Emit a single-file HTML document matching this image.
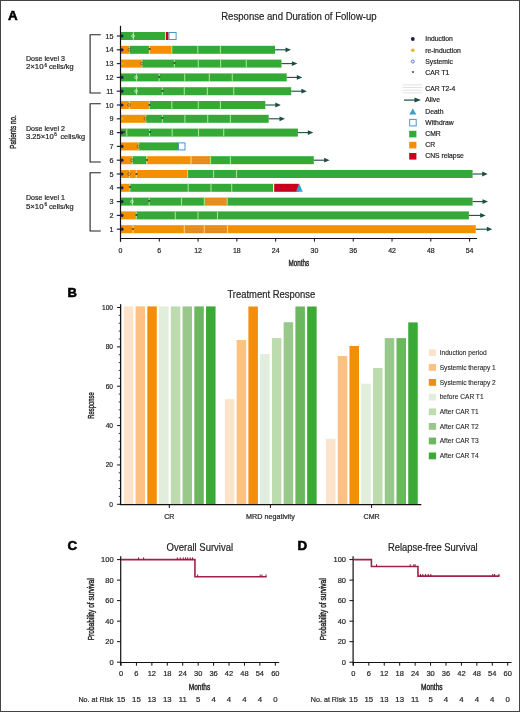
<!DOCTYPE html>
<html><head><meta charset="utf-8"><title>Figure</title>
<style>html,body{margin:0;padding:0;background:#fff;}svg{display:block;will-change:transform;}text{font-family:"Liberation Sans",sans-serif;stroke:#262626;stroke-width:0.2px;}</style>
</head><body>
<svg width="520" height="712" viewBox="0 0 520 712" font-family='"Liberation Sans", sans-serif'>
<rect x="0" y="0" width="520" height="712" fill="#fff"/>
<text x="7.9" y="19.9" font-size="13.4" text-anchor="start" font-weight="bold" fill="#000" style="stroke:#000;stroke-width:0.55px">A</text>
<text x="221.2" y="19.6" font-size="10" text-anchor="start" font-weight="normal" fill="#262626" textLength="155.5" lengthAdjust="spacingAndGlyphs" >Response and Duration of Follow-up</text>
<text transform="translate(15.6,132) rotate(-90)" x="0" y="0" font-size="9.4" text-anchor="middle" fill="#262626" textLength="33.5" lengthAdjust="spacingAndGlyphs" style="stroke-width:0.4px">Patients no.</text>
<path d="M100.8 34.8H90.1V93.0H100.8" fill="none" stroke="#222" stroke-width="1.1"/>
<text x="26" y="60.9" font-size="7" text-anchor="start" font-weight="normal" fill="#262626" textLength="39" lengthAdjust="spacingAndGlyphs" >Dose level 3</text>
<text x="25.9" y="69.3" font-size="7" text-anchor="start" font-weight="normal" fill="#262626" textLength="17.7" lengthAdjust="spacingAndGlyphs" >2×10</text>
<text x="44.6" y="66.5" font-size="4.6" text-anchor="start" font-weight="normal" fill="#262626" >6</text>
<text x="48.9" y="69.3" font-size="7" text-anchor="start" font-weight="normal" fill="#262626" textLength="24.6" lengthAdjust="spacingAndGlyphs" >cells/kg</text>
<path d="M100.8 103.8H90.1V162.0H100.8" fill="none" stroke="#222" stroke-width="1.1"/>
<text x="26" y="130.8" font-size="7" text-anchor="start" font-weight="normal" fill="#262626" textLength="39" lengthAdjust="spacingAndGlyphs" >Dose level 2</text>
<text x="25.9" y="139.2" font-size="7" text-anchor="start" font-weight="normal" fill="#262626" textLength="27.8" lengthAdjust="spacingAndGlyphs" >3.25×10</text>
<text x="54.3" y="136.4" font-size="4.6" text-anchor="start" font-weight="normal" fill="#262626" >6</text>
<text x="60.4" y="139.2" font-size="7" text-anchor="start" font-weight="normal" fill="#262626" textLength="24.6" lengthAdjust="spacingAndGlyphs" >cells/kg</text>
<path d="M100.8 172.8H90.1V231.00000000000003H100.8" fill="none" stroke="#222" stroke-width="1.1"/>
<text x="26" y="200.1" font-size="7" text-anchor="start" font-weight="normal" fill="#262626" textLength="39" lengthAdjust="spacingAndGlyphs" >Dose level 1</text>
<text x="25.9" y="208.5" font-size="7" text-anchor="start" font-weight="normal" fill="#262626" textLength="17.7" lengthAdjust="spacingAndGlyphs" >5×10</text>
<text x="44.6" y="205.7" font-size="4.6" text-anchor="start" font-weight="normal" fill="#262626" >6</text>
<text x="48.9" y="208.5" font-size="7" text-anchor="start" font-weight="normal" fill="#262626" textLength="24.6" lengthAdjust="spacingAndGlyphs" >cells/kg</text>
<text x="113.6" y="231.70000000000002" font-size="7.2" text-anchor="end" font-weight="normal" fill="#262626" >1</text>
<rect x="121" y="225.20000000000002" width="63.30" height="8" fill="#f29000"/>
<rect x="184.3" y="225.20000000000002" width="43.20" height="8" fill="#e58a18"/>
<line x1="184.3" x2="227.5" y1="227.70000000000002" y2="227.70000000000002" stroke="#f7b453" stroke-width="0.7" stroke-dasharray="1 1" opacity="0.7"/>
<line x1="184.3" x2="227.5" y1="230.70000000000002" y2="230.70000000000002" stroke="#f7b453" stroke-width="0.7" stroke-dasharray="1 1" opacity="0.7"/>
<rect x="227.5" y="225.20000000000002" width="248.20" height="8" fill="#f29000"/>
<rect x="132.45" y="225.20000000000002" width="1.1" height="8" fill="#fdd08a"/>
<rect x="183.75" y="225.20000000000002" width="1.1" height="8" fill="#fdd08a"/>
<rect x="203.75" y="225.20000000000002" width="1.1" height="8" fill="#fdd08a"/>
<rect x="226.95" y="225.20000000000002" width="1.1" height="8" fill="#fdd08a"/>
<line x1="475.7" x2="488.3" y1="229.20000000000002" y2="229.20000000000002" stroke="#1b4d45" stroke-width="1.1"/>
<path d="M486.8 226.8L492.3 229.20000000000002L486.8 231.60000000000002Z" fill="#1b4d45"/>
<line x1="116.8" x2="120.5" y1="229.20000000000002" y2="229.20000000000002" stroke="#1c2a4f" stroke-width="1.2"/>
<circle cx="122" cy="229.20000000000002" r="1.6" fill="#1c2a4f"/>
<text x="133" y="231.8" font-size="6" text-anchor="middle" fill="#444">*</text>
<text x="113.6" y="217.9" font-size="7.2" text-anchor="end" font-weight="normal" fill="#262626" >2</text>
<rect x="121" y="211.4" width="15.30" height="8" fill="#f29000"/>
<rect x="136.3" y="211.4" width="332.60" height="8" fill="#35a935"/>
<rect x="135.75" y="211.4" width="1.1" height="8" fill="#a3e096"/>
<rect x="174.75" y="211.4" width="1.1" height="8" fill="#a3e096"/>
<rect x="197.45" y="211.4" width="1.1" height="8" fill="#a3e096"/>
<rect x="216.95" y="211.4" width="1.1" height="8" fill="#a3e096"/>
<line x1="468.9" x2="481.7" y1="215.4" y2="215.4" stroke="#1b4d45" stroke-width="1.1"/>
<path d="M480.2 213.0L485.7 215.4L480.2 217.8Z" fill="#1b4d45"/>
<line x1="116.8" x2="120.5" y1="215.4" y2="215.4" stroke="#1c2a4f" stroke-width="1.2"/>
<circle cx="122" cy="215.4" r="1.6" fill="#1c2a4f"/>
<text x="136.3" y="218.0" font-size="6" text-anchor="middle" fill="#444">*</text>
<text x="113.6" y="204.10000000000002" font-size="7.2" text-anchor="end" font-weight="normal" fill="#262626" >3</text>
<rect x="121" y="197.60000000000002" width="83.50" height="8" fill="#35a935"/>
<rect x="204.5" y="197.60000000000002" width="22.70" height="8" fill="#e58a18"/>
<line x1="204.5" x2="227.2" y1="200.10000000000002" y2="200.10000000000002" stroke="#f7b453" stroke-width="0.7" stroke-dasharray="1 1" opacity="0.7"/>
<line x1="204.5" x2="227.2" y1="203.10000000000002" y2="203.10000000000002" stroke="#f7b453" stroke-width="0.7" stroke-dasharray="1 1" opacity="0.7"/>
<rect x="227.2" y="197.60000000000002" width="245.40" height="8" fill="#35a935"/>
<rect x="131.85" y="197.60000000000002" width="1.1" height="8" fill="#a3e096"/>
<rect x="148.64999999999998" y="197.60000000000002" width="1.1" height="8" fill="#a3e096"/>
<rect x="180.95" y="197.60000000000002" width="1.1" height="8" fill="#a3e096"/>
<rect x="203.75" y="197.60000000000002" width="1.1" height="8" fill="#a3e096"/>
<rect x="226.64999999999998" y="197.60000000000002" width="1.1" height="8" fill="#a3e096"/>
<line x1="472.6" x2="484" y1="201.60000000000002" y2="201.60000000000002" stroke="#1b4d45" stroke-width="1.1"/>
<path d="M482.5 199.20000000000002L488 201.60000000000002L482.5 204.00000000000003Z" fill="#1b4d45"/>
<line x1="116.8" x2="120.5" y1="201.60000000000002" y2="201.60000000000002" stroke="#1c2a4f" stroke-width="1.2"/>
<circle cx="122" cy="201.60000000000002" r="1.6" fill="#1c2a4f"/>
<circle cx="132.0" cy="201.60000000000002" r="1.4" fill="none" stroke="#e2f2dc" stroke-width="0.8" opacity="0.9"/>
<text x="149.2" y="204.20000000000002" font-size="6" text-anchor="middle" fill="#444">*</text>
<text x="113.6" y="190.3" font-size="7.2" text-anchor="end" font-weight="normal" fill="#262626" >4</text>
<rect x="121" y="183.8" width="8.90" height="8" fill="#f29000"/>
<rect x="129.9" y="183.8" width="143.20" height="8" fill="#35a935"/>
<rect x="274.2" y="183.8" width="24.60" height="8" fill="#c8001e"/>
<rect x="129.35" y="183.8" width="1.1" height="8" fill="#a3e096"/>
<rect x="187.64999999999998" y="183.8" width="1.1" height="8" fill="#a3e096"/>
<rect x="210.45" y="183.8" width="1.1" height="8" fill="#a3e096"/>
<rect x="231.14999999999998" y="183.8" width="1.1" height="8" fill="#a3e096"/>
<path d="M299.3 183.8L302.7 191.8L295.90000000000003 191.8Z" fill="#3aa0d0"/>
<line x1="116.8" x2="120.5" y1="187.8" y2="187.8" stroke="#1c2a4f" stroke-width="1.2"/>
<circle cx="122" cy="187.8" r="1.6" fill="#1c2a4f"/>
<text x="129.9" y="190.4" font-size="6" text-anchor="middle" fill="#444">*</text>
<text x="113.6" y="176.5" font-size="7.2" text-anchor="end" font-weight="normal" fill="#262626" >5</text>
<rect x="121" y="170.0" width="66.60" height="8" fill="#f29000"/>
<rect x="187.6" y="170.0" width="285.00" height="8" fill="#35a935"/>
<rect x="128.95" y="170.0" width="1.1" height="8" fill="#fdd08a"/>
<rect x="135.75" y="170.0" width="1.1" height="8" fill="#fdd08a"/>
<rect x="187.04999999999998" y="170.0" width="1.1" height="8" fill="#a3e096"/>
<rect x="213.04999999999998" y="170.0" width="1.1" height="8" fill="#a3e096"/>
<rect x="235.95" y="170.0" width="1.1" height="8" fill="#a3e096"/>
<line x1="472.6" x2="483.7" y1="174.0" y2="174.0" stroke="#1b4d45" stroke-width="1.1"/>
<path d="M482.2 171.6L487.7 174.0L482.2 176.4Z" fill="#1b4d45"/>
<line x1="116.8" x2="120.5" y1="174.0" y2="174.0" stroke="#1c2a4f" stroke-width="1.2"/>
<circle cx="122" cy="174.0" r="1.6" fill="#1c2a4f"/>
<circle cx="129.1" cy="174.0" r="1.4" fill="none" stroke="#7a5530" stroke-width="0.8" opacity="0.9"/>
<text x="136.3" y="176.6" font-size="6" text-anchor="middle" fill="#444">*</text>
<text x="113.6" y="162.7" font-size="7.2" text-anchor="end" font-weight="normal" fill="#262626" >6</text>
<rect x="121" y="156.2" width="11.40" height="8" fill="#f29000"/>
<rect x="132.4" y="156.2" width="14.40" height="8" fill="#35a935"/>
<rect x="146.8" y="156.2" width="44.20" height="8" fill="#f29000"/>
<rect x="191" y="156.2" width="19.50" height="8" fill="#e58a18"/>
<line x1="191" x2="210.5" y1="158.7" y2="158.7" stroke="#f7b453" stroke-width="0.7" stroke-dasharray="1 1" opacity="0.7"/>
<line x1="191" x2="210.5" y1="161.7" y2="161.7" stroke="#f7b453" stroke-width="0.7" stroke-dasharray="1 1" opacity="0.7"/>
<rect x="210.5" y="156.2" width="103.30" height="8" fill="#35a935"/>
<rect x="131.85" y="156.2" width="1.1" height="8" fill="#a3e096"/>
<rect x="146.25" y="156.2" width="1.1" height="8" fill="#fdd08a"/>
<rect x="190.45" y="156.2" width="1.1" height="8" fill="#fdd08a"/>
<rect x="209.95" y="156.2" width="1.1" height="8" fill="#a3e096"/>
<rect x="229.85" y="156.2" width="1.1" height="8" fill="#a3e096"/>
<line x1="313.8" x2="325.6" y1="160.2" y2="160.2" stroke="#1b4d45" stroke-width="1.1"/>
<path d="M324.1 157.79999999999998L329.6 160.2L324.1 162.6Z" fill="#1b4d45"/>
<line x1="116.8" x2="120.5" y1="160.2" y2="160.2" stroke="#1c2a4f" stroke-width="1.2"/>
<circle cx="122" cy="160.2" r="1.6" fill="#1c2a4f"/>
<circle cx="132.0" cy="160.2" r="1.4" fill="none" stroke="#7a5530" stroke-width="0.8" opacity="0.9"/>
<text x="146.8" y="162.79999999999998" font-size="6" text-anchor="middle" fill="#444">*</text>
<text x="113.6" y="148.9" font-size="7.2" text-anchor="end" font-weight="normal" fill="#262626" >7</text>
<rect x="121" y="142.4" width="17.80" height="8" fill="#f29000"/>
<rect x="138.8" y="142.4" width="39.20" height="8" fill="#35a935"/>
<rect x="138.25" y="142.4" width="1.1" height="8" fill="#a3e096"/>
<rect x="178.5" y="142.9" width="6.5" height="7" fill="#fff" stroke="#4a95c8" stroke-width="1"/>
<line x1="116.8" x2="120.5" y1="146.4" y2="146.4" stroke="#1c2a4f" stroke-width="1.2"/>
<circle cx="122" cy="146.4" r="1.6" fill="#1c2a4f"/>
<circle cx="138.4" cy="146.4" r="1.4" fill="none" stroke="#7a5530" stroke-width="0.8" opacity="0.9"/>
<text x="113.6" y="135.10000000000002" font-size="7.2" text-anchor="end" font-weight="normal" fill="#262626" >8</text>
<rect x="121" y="128.60000000000002" width="176.90" height="8" fill="#35a935"/>
<rect x="126.25" y="128.60000000000002" width="1.1" height="8" fill="#a3e096"/>
<rect x="148.95" y="128.60000000000002" width="1.1" height="8" fill="#a3e096"/>
<rect x="171.64999999999998" y="128.60000000000002" width="1.1" height="8" fill="#a3e096"/>
<rect x="197.95" y="128.60000000000002" width="1.1" height="8" fill="#a3e096"/>
<rect x="223.14999999999998" y="128.60000000000002" width="1.1" height="8" fill="#a3e096"/>
<line x1="297.9" x2="309.3" y1="132.60000000000002" y2="132.60000000000002" stroke="#1b4d45" stroke-width="1.1"/>
<path d="M307.8 130.20000000000002L313.3 132.60000000000002L307.8 135.00000000000003Z" fill="#1b4d45"/>
<line x1="116.8" x2="120.5" y1="132.60000000000002" y2="132.60000000000002" stroke="#1c2a4f" stroke-width="1.2"/>
<circle cx="122" cy="132.60000000000002" r="1.6" fill="#1c2a4f"/>
<text x="123.8" y="135.20000000000002" font-size="6" text-anchor="middle" fill="#444">*</text>
<text x="149.8" y="135.20000000000002" font-size="6" text-anchor="middle" fill="#444">*</text>
<text x="113.6" y="121.30000000000001" font-size="7.2" text-anchor="end" font-weight="normal" fill="#262626" >9</text>
<rect x="121" y="114.80000000000001" width="24.90" height="8" fill="#f29000"/>
<rect x="145.9" y="114.80000000000001" width="122.80" height="8" fill="#35a935"/>
<rect x="145.35" y="114.80000000000001" width="1.1" height="8" fill="#a3e096"/>
<rect x="161.85" y="114.80000000000001" width="1.1" height="8" fill="#a3e096"/>
<rect x="184.35" y="114.80000000000001" width="1.1" height="8" fill="#a3e096"/>
<rect x="207.14999999999998" y="114.80000000000001" width="1.1" height="8" fill="#a3e096"/>
<rect x="229.85" y="114.80000000000001" width="1.1" height="8" fill="#a3e096"/>
<line x1="268.7" x2="281" y1="118.80000000000001" y2="118.80000000000001" stroke="#1b4d45" stroke-width="1.1"/>
<path d="M279.5 116.4L285 118.80000000000001L279.5 121.20000000000002Z" fill="#1b4d45"/>
<line x1="116.8" x2="120.5" y1="118.80000000000001" y2="118.80000000000001" stroke="#1c2a4f" stroke-width="1.2"/>
<circle cx="121.8" cy="118.80000000000001" r="1.5" fill="#e2b822"/>
<circle cx="145.5" cy="118.80000000000001" r="1.4" fill="none" stroke="#7a5530" stroke-width="0.8" opacity="0.9"/>
<text x="162.4" y="121.4" font-size="6" text-anchor="middle" fill="#444">*</text>
<text x="113.6" y="107.5" font-size="7.2" text-anchor="end" font-weight="normal" fill="#262626" >10</text>
<rect x="121" y="101.0" width="28.30" height="8" fill="#f29000"/>
<rect x="149.3" y="101.0" width="116.00" height="8" fill="#35a935"/>
<rect x="128.75" y="101.0" width="1.1" height="8" fill="#fdd08a"/>
<rect x="148.75" y="101.0" width="1.1" height="8" fill="#a3e096"/>
<rect x="171.25" y="101.0" width="1.1" height="8" fill="#a3e096"/>
<rect x="197.75" y="101.0" width="1.1" height="8" fill="#a3e096"/>
<rect x="219.85" y="101.0" width="1.1" height="8" fill="#a3e096"/>
<line x1="265.3" x2="276.8" y1="105.0" y2="105.0" stroke="#1b4d45" stroke-width="1.1"/>
<path d="M275.3 102.6L280.8 105.0L275.3 107.4Z" fill="#1b4d45"/>
<line x1="116.8" x2="120.5" y1="105.0" y2="105.0" stroke="#1c2a4f" stroke-width="1.2"/>
<circle cx="122" cy="105.0" r="1.6" fill="#1c2a4f"/>
<circle cx="128.9" cy="105.0" r="1.4" fill="none" stroke="#7a5530" stroke-width="0.8" opacity="0.9"/>
<text x="149.3" y="107.6" font-size="6" text-anchor="middle" fill="#444">*</text>
<text x="113.6" y="93.7" font-size="7.2" text-anchor="end" font-weight="normal" fill="#262626" >11</text>
<rect x="121" y="87.2" width="170.20" height="8" fill="#35a935"/>
<rect x="135.95" y="87.2" width="1.1" height="8" fill="#a3e096"/>
<rect x="161.85" y="87.2" width="1.1" height="8" fill="#a3e096"/>
<rect x="183.75" y="87.2" width="1.1" height="8" fill="#a3e096"/>
<rect x="206.85" y="87.2" width="1.1" height="8" fill="#a3e096"/>
<rect x="233.14999999999998" y="87.2" width="1.1" height="8" fill="#a3e096"/>
<line x1="291.2" x2="302.9" y1="91.2" y2="91.2" stroke="#1b4d45" stroke-width="1.1"/>
<path d="M301.4 88.8L306.9 91.2L301.4 93.60000000000001Z" fill="#1b4d45"/>
<line x1="116.8" x2="120.5" y1="91.2" y2="91.2" stroke="#1c2a4f" stroke-width="1.2"/>
<circle cx="122" cy="91.2" r="1.6" fill="#1c2a4f"/>
<circle cx="136.1" cy="91.2" r="1.4" fill="none" stroke="#e2f2dc" stroke-width="0.8" opacity="0.9"/>
<text x="162.4" y="93.8" font-size="6" text-anchor="middle" fill="#444">*</text>
<text x="113.6" y="79.9" font-size="7.2" text-anchor="end" font-weight="normal" fill="#262626" >12</text>
<rect x="121" y="73.4" width="165.70" height="8" fill="#35a935"/>
<rect x="135.95" y="73.4" width="1.1" height="8" fill="#a3e096"/>
<rect x="158.64999999999998" y="73.4" width="1.1" height="8" fill="#a3e096"/>
<rect x="184.14999999999998" y="73.4" width="1.1" height="8" fill="#a3e096"/>
<rect x="208.75" y="73.4" width="1.1" height="8" fill="#a3e096"/>
<rect x="231.75" y="73.4" width="1.1" height="8" fill="#a3e096"/>
<line x1="286.7" x2="298.3" y1="77.4" y2="77.4" stroke="#1b4d45" stroke-width="1.1"/>
<path d="M296.8 75.0L302.3 77.4L296.8 79.80000000000001Z" fill="#1b4d45"/>
<line x1="116.8" x2="120.5" y1="77.4" y2="77.4" stroke="#1c2a4f" stroke-width="1.2"/>
<circle cx="122" cy="77.4" r="1.6" fill="#1c2a4f"/>
<circle cx="136.1" cy="77.4" r="1.4" fill="none" stroke="#e2f2dc" stroke-width="0.8" opacity="0.9"/>
<text x="159.2" y="80.0" font-size="6" text-anchor="middle" fill="#444">*</text>
<text x="113.6" y="66.1" font-size="7.2" text-anchor="end" font-weight="normal" fill="#262626" >13</text>
<rect x="121" y="59.6" width="21.00" height="8" fill="#f29000"/>
<rect x="142" y="59.6" width="139.50" height="8" fill="#35a935"/>
<rect x="141.45" y="59.6" width="1.1" height="8" fill="#a3e096"/>
<rect x="173.85" y="59.6" width="1.1" height="8" fill="#a3e096"/>
<rect x="197.75" y="59.6" width="1.1" height="8" fill="#a3e096"/>
<rect x="220.04999999999998" y="59.6" width="1.1" height="8" fill="#a3e096"/>
<rect x="245.75" y="59.6" width="1.1" height="8" fill="#a3e096"/>
<line x1="281.5" x2="293.4" y1="63.6" y2="63.6" stroke="#1b4d45" stroke-width="1.1"/>
<path d="M291.9 61.2L297.4 63.6L291.9 66.0Z" fill="#1b4d45"/>
<line x1="116.8" x2="120.5" y1="63.6" y2="63.6" stroke="#1c2a4f" stroke-width="1.2"/>
<circle cx="121.8" cy="63.6" r="1.5" fill="#e2b822"/>
<circle cx="141.79999999999998" cy="63.6" r="1.4" fill="none" stroke="#7a5530" stroke-width="0.8" opacity="0.9"/>
<text x="174.4" y="66.2" font-size="6" text-anchor="middle" fill="#444">*</text>
<text x="113.6" y="52.3" font-size="7.2" text-anchor="end" font-weight="normal" fill="#262626" >14</text>
<rect x="121" y="45.8" width="8.40" height="8" fill="#f29000"/>
<rect x="129.4" y="45.8" width="20.00" height="8" fill="#35a935"/>
<rect x="149.4" y="45.8" width="22.40" height="8" fill="#f29000"/>
<rect x="171.8" y="45.8" width="103.20" height="8" fill="#35a935"/>
<rect x="128.85" y="45.8" width="1.1" height="8" fill="#a3e096"/>
<rect x="148.85" y="45.8" width="1.1" height="8" fill="#fdd08a"/>
<rect x="171.25" y="45.8" width="1.1" height="8" fill="#a3e096"/>
<rect x="197.25" y="45.8" width="1.1" height="8" fill="#a3e096"/>
<rect x="219.85" y="45.8" width="1.1" height="8" fill="#a3e096"/>
<line x1="275" x2="287" y1="49.8" y2="49.8" stroke="#1b4d45" stroke-width="1.1"/>
<path d="M285.5 47.4L291 49.8L285.5 52.199999999999996Z" fill="#1b4d45"/>
<line x1="116.8" x2="120.5" y1="49.8" y2="49.8" stroke="#1c2a4f" stroke-width="1.2"/>
<circle cx="122" cy="49.8" r="1.6" fill="#1c2a4f"/>
<circle cx="129.2" cy="49.8" r="1.4" fill="none" stroke="#7a5530" stroke-width="0.8" opacity="0.9"/>
<text x="149.6" y="52.4" font-size="6" text-anchor="middle" fill="#444">*</text>
<text x="113.6" y="38.5" font-size="7.2" text-anchor="end" font-weight="normal" fill="#262626" >15</text>
<rect x="121" y="32.0" width="44.30" height="8" fill="#35a935"/>
<rect x="166.0" y="32.0" width="2.50" height="8" fill="#c8001e"/>
<rect x="132.85" y="32.0" width="1.1" height="8" fill="#a3e096"/>
<rect x="169.0" y="32.5" width="7.099999999999994" height="7" fill="#fff" stroke="#4a95c8" stroke-width="1"/>
<line x1="116.8" x2="120.5" y1="36.0" y2="36.0" stroke="#1c2a4f" stroke-width="1.2"/>
<circle cx="122" cy="36.0" r="1.6" fill="#1c2a4f"/>
<circle cx="133.0" cy="36.0" r="1.4" fill="none" stroke="#e2f2dc" stroke-width="0.8" opacity="0.9"/>
<line x1="120.5" x2="120.5" y1="25.8" y2="241.6" stroke="#111" stroke-width="1.2"/>
<line x1="120" x2="477" y1="238.5" y2="238.5" stroke="#111" stroke-width="1.2"/>
<line x1="120.50" x2="120.50" y1="238.5" y2="241.6" stroke="#111" stroke-width="1"/>
<text x="120.5" y="252.9" font-size="7" text-anchor="middle" font-weight="normal" fill="#262626" >0</text>
<line x1="159.29" x2="159.29" y1="238.5" y2="241.6" stroke="#111" stroke-width="1"/>
<text x="159.29" y="252.9" font-size="7" text-anchor="middle" font-weight="normal" fill="#262626" >6</text>
<line x1="198.08" x2="198.08" y1="238.5" y2="241.6" stroke="#111" stroke-width="1"/>
<text x="198.08" y="252.9" font-size="7" text-anchor="middle" font-weight="normal" fill="#262626" >12</text>
<line x1="236.87" x2="236.87" y1="238.5" y2="241.6" stroke="#111" stroke-width="1"/>
<text x="236.87" y="252.9" font-size="7" text-anchor="middle" font-weight="normal" fill="#262626" >18</text>
<line x1="275.66" x2="275.66" y1="238.5" y2="241.6" stroke="#111" stroke-width="1"/>
<text x="275.66" y="252.9" font-size="7" text-anchor="middle" font-weight="normal" fill="#262626" >24</text>
<line x1="314.45" x2="314.45" y1="238.5" y2="241.6" stroke="#111" stroke-width="1"/>
<text x="314.45" y="252.9" font-size="7" text-anchor="middle" font-weight="normal" fill="#262626" >30</text>
<line x1="353.24" x2="353.24" y1="238.5" y2="241.6" stroke="#111" stroke-width="1"/>
<text x="353.24" y="252.9" font-size="7" text-anchor="middle" font-weight="normal" fill="#262626" >36</text>
<line x1="392.03" x2="392.03" y1="238.5" y2="241.6" stroke="#111" stroke-width="1"/>
<text x="392.03" y="252.9" font-size="7" text-anchor="middle" font-weight="normal" fill="#262626" >42</text>
<line x1="430.82" x2="430.82" y1="238.5" y2="241.6" stroke="#111" stroke-width="1"/>
<text x="430.82" y="252.9" font-size="7" text-anchor="middle" font-weight="normal" fill="#262626" >48</text>
<line x1="469.61" x2="469.61" y1="238.5" y2="241.6" stroke="#111" stroke-width="1"/>
<text x="469.61" y="252.9" font-size="7" text-anchor="middle" font-weight="normal" fill="#262626" >54</text>
<text x="298.9" y="265.8" font-size="9.2" text-anchor="middle" fill="#262626" textLength="20.6" lengthAdjust="spacingAndGlyphs" style="stroke-width:0.45px">Months</text>
<text x="425.3" y="41.300000000000004" font-size="6.8" text-anchor="start" font-weight="normal" fill="#262626" >Induction</text>
<text x="425.3" y="52.6" font-size="6.8" text-anchor="start" font-weight="normal" fill="#262626" >re-induction</text>
<text x="425.3" y="63.7" font-size="6.8" text-anchor="start" font-weight="normal" fill="#262626" >Systemic</text>
<text x="425.3" y="74.89999999999999" font-size="6.8" text-anchor="start" font-weight="normal" fill="#262626" >CAR T1</text>
<text x="425.3" y="90.6" font-size="6.8" text-anchor="start" font-weight="normal" fill="#262626" >CAR T2-4</text>
<text x="425.3" y="102.19999999999999" font-size="6.8" text-anchor="start" font-weight="normal" fill="#262626" >Alive</text>
<text x="425.3" y="113.6" font-size="6.8" text-anchor="start" font-weight="normal" fill="#262626" >Death</text>
<text x="425.3" y="124.69999999999999" font-size="6.8" text-anchor="start" font-weight="normal" fill="#262626" >Withdraw</text>
<text x="425.3" y="136.1" font-size="6.8" text-anchor="start" font-weight="normal" fill="#262626" >CMR</text>
<text x="425.3" y="147.2" font-size="6.8" text-anchor="start" font-weight="normal" fill="#262626" >CR</text>
<text x="425.3" y="158.4" font-size="6.8" text-anchor="start" font-weight="normal" fill="#262626" >CNS relapse</text>
<circle cx="412.8" cy="39.0" r="1.9" fill="#1a2238"/>
<circle cx="412.8" cy="50.2" r="1.8" fill="#e2b822"/>
<circle cx="412.8" cy="61.5" r="1.5" fill="none" stroke="#4a5fc0" stroke-width="0.9"/>
<text x="412.8" y="75.4" font-size="6" text-anchor="middle" fill="#444">*</text>
<line x1="402.7" x2="422.2" y1="84.8" y2="84.8" stroke="#cfcfcf" stroke-width="0.6"/>
<line x1="402.7" x2="422.2" y1="87.5" y2="87.5" stroke="#cfcfcf" stroke-width="0.6"/>
<line x1="402.7" x2="422.2" y1="90.2" y2="90.2" stroke="#cfcfcf" stroke-width="0.6"/>
<line x1="402.7" x2="422.2" y1="92.9" y2="92.9" stroke="#cfcfcf" stroke-width="0.6"/>
<line x1="404" x2="416" y1="100.1" y2="100.1" stroke="#1b4d45" stroke-width="1.2"/>
<path d="M414.5 97.6L421 100.1L414.5 102.6Z" fill="#1b4d45"/>
<path d="M412.8 108.6L416.4 114.6L409.2 114.6Z" fill="#3aa0d0"/>
<rect x="409.7" y="119.4" width="6.5" height="6.5" fill="#fff" stroke="#4a95c8" stroke-width="1"/>
<rect x="409.2" y="130.8" width="7.2" height="6.6" fill="#35a935"/>
<rect x="409.2" y="141.8" width="7.2" height="6.6" fill="#f29000"/>
<rect x="409.2" y="153" width="7.2" height="6.6" fill="#c8001e"/>
<text x="67.6" y="297.4" font-size="13" text-anchor="start" font-weight="bold" fill="#000" style="stroke:#000;stroke-width:0.55px">B</text>
<text x="227.4" y="298.4" font-size="10" text-anchor="start" font-weight="normal" fill="#262626" textLength="87.8" lengthAdjust="spacingAndGlyphs" >Treatment Response</text>
<rect x="123.80" y="306.40" width="9.5" height="198.20" fill="#fde3c9"/>
<rect x="135.55" y="306.40" width="9.5" height="198.20" fill="#fdc184"/>
<rect x="147.30" y="306.40" width="9.5" height="198.20" fill="#f28e0a"/>
<rect x="159.05" y="306.40" width="9.5" height="198.20" fill="#e0eedb"/>
<rect x="170.80" y="306.40" width="9.5" height="198.20" fill="#bcdcaf"/>
<rect x="182.55" y="306.40" width="9.5" height="198.20" fill="#98c98a"/>
<rect x="194.30" y="306.40" width="9.5" height="198.20" fill="#6bb75e"/>
<rect x="206.05" y="306.40" width="9.5" height="198.20" fill="#3aa935"/>
<rect x="224.90" y="399.20" width="9.5" height="105.40" fill="#fde3c9"/>
<rect x="236.65" y="340.00" width="9.5" height="164.60" fill="#fdc184"/>
<rect x="248.40" y="306.50" width="9.5" height="198.10" fill="#f28e0a"/>
<rect x="260.15" y="354.10" width="9.5" height="150.50" fill="#e0eedb"/>
<rect x="271.90" y="338.10" width="9.5" height="166.50" fill="#bcdcaf"/>
<rect x="283.65" y="322.20" width="9.5" height="182.40" fill="#98c98a"/>
<rect x="295.40" y="306.50" width="9.5" height="198.10" fill="#6bb75e"/>
<rect x="307.15" y="306.50" width="9.5" height="198.10" fill="#3aa935"/>
<rect x="326.00" y="438.90" width="9.5" height="65.70" fill="#fde3c9"/>
<rect x="337.75" y="356.00" width="9.5" height="148.60" fill="#fdc184"/>
<rect x="349.50" y="346.00" width="9.5" height="158.60" fill="#f28e0a"/>
<rect x="361.25" y="383.70" width="9.5" height="120.90" fill="#e0eedb"/>
<rect x="373.00" y="368.00" width="9.5" height="136.60" fill="#bcdcaf"/>
<rect x="384.75" y="338.10" width="9.5" height="166.50" fill="#98c98a"/>
<rect x="396.50" y="338.10" width="9.5" height="166.50" fill="#6bb75e"/>
<rect x="408.25" y="322.40" width="9.5" height="182.20" fill="#3aa935"/>
<line x1="120.6" x2="120.6" y1="304.2" y2="505" stroke="#111" stroke-width="1.3"/>
<line x1="120" x2="421.3" y1="504.6" y2="504.6" stroke="#111" stroke-width="1.3"/>
<line x1="117.1" x2="120.6" y1="504.30" y2="504.30" stroke="#111" stroke-width="1"/>
<text x="113" y="506.6" font-size="6.6" text-anchor="end" font-weight="normal" fill="#262626" >0</text>
<line x1="118.7" x2="120.6" y1="496.43" y2="496.43" stroke="#111" stroke-width="0.8"/>
<line x1="118.7" x2="120.6" y1="488.56" y2="488.56" stroke="#111" stroke-width="0.8"/>
<line x1="118.7" x2="120.6" y1="480.68" y2="480.68" stroke="#111" stroke-width="0.8"/>
<line x1="118.7" x2="120.6" y1="472.81" y2="472.81" stroke="#111" stroke-width="0.8"/>
<line x1="117.1" x2="120.6" y1="464.94" y2="464.94" stroke="#111" stroke-width="1"/>
<text x="113" y="467.24" font-size="6.6" text-anchor="end" font-weight="normal" fill="#262626" >20</text>
<line x1="118.7" x2="120.6" y1="457.07" y2="457.07" stroke="#111" stroke-width="0.8"/>
<line x1="118.7" x2="120.6" y1="449.20" y2="449.20" stroke="#111" stroke-width="0.8"/>
<line x1="118.7" x2="120.6" y1="441.32" y2="441.32" stroke="#111" stroke-width="0.8"/>
<line x1="118.7" x2="120.6" y1="433.45" y2="433.45" stroke="#111" stroke-width="0.8"/>
<line x1="117.1" x2="120.6" y1="425.58" y2="425.58" stroke="#111" stroke-width="1"/>
<text x="113" y="427.88" font-size="6.6" text-anchor="end" font-weight="normal" fill="#262626" >40</text>
<line x1="118.7" x2="120.6" y1="417.71" y2="417.71" stroke="#111" stroke-width="0.8"/>
<line x1="118.7" x2="120.6" y1="409.84" y2="409.84" stroke="#111" stroke-width="0.8"/>
<line x1="118.7" x2="120.6" y1="401.96" y2="401.96" stroke="#111" stroke-width="0.8"/>
<line x1="118.7" x2="120.6" y1="394.09" y2="394.09" stroke="#111" stroke-width="0.8"/>
<line x1="117.1" x2="120.6" y1="386.22" y2="386.22" stroke="#111" stroke-width="1"/>
<text x="113" y="388.52" font-size="6.6" text-anchor="end" font-weight="normal" fill="#262626" >60</text>
<line x1="118.7" x2="120.6" y1="378.35" y2="378.35" stroke="#111" stroke-width="0.8"/>
<line x1="118.7" x2="120.6" y1="370.48" y2="370.48" stroke="#111" stroke-width="0.8"/>
<line x1="118.7" x2="120.6" y1="362.60" y2="362.60" stroke="#111" stroke-width="0.8"/>
<line x1="118.7" x2="120.6" y1="354.73" y2="354.73" stroke="#111" stroke-width="0.8"/>
<line x1="117.1" x2="120.6" y1="346.86" y2="346.86" stroke="#111" stroke-width="1"/>
<text x="113" y="349.16" font-size="6.6" text-anchor="end" font-weight="normal" fill="#262626" >80</text>
<line x1="118.7" x2="120.6" y1="338.99" y2="338.99" stroke="#111" stroke-width="0.8"/>
<line x1="118.7" x2="120.6" y1="331.12" y2="331.12" stroke="#111" stroke-width="0.8"/>
<line x1="118.7" x2="120.6" y1="323.24" y2="323.24" stroke="#111" stroke-width="0.8"/>
<line x1="118.7" x2="120.6" y1="315.37" y2="315.37" stroke="#111" stroke-width="0.8"/>
<line x1="117.1" x2="120.6" y1="307.50" y2="307.50" stroke="#111" stroke-width="1"/>
<text x="113" y="309.8" font-size="6.6" text-anchor="end" font-weight="normal" fill="#262626" >100</text>
<line x1="169.3" x2="169.3" y1="504.6" y2="508" stroke="#111" stroke-width="1"/>
<text x="169.3" y="518.8" font-size="7.1" text-anchor="middle" font-weight="normal" fill="#262626" >CR</text>
<line x1="270.4" x2="270.4" y1="504.6" y2="508" stroke="#111" stroke-width="1"/>
<text x="270.4" y="518.8" font-size="7.1" text-anchor="middle" font-weight="normal" fill="#262626" textLength="48.8" lengthAdjust="spacingAndGlyphs" >MRD negativity</text>
<line x1="371.6" x2="371.6" y1="504.6" y2="508" stroke="#111" stroke-width="1"/>
<text x="371.6" y="518.8" font-size="7.1" text-anchor="middle" font-weight="normal" fill="#262626" >CMR</text>
<text transform="translate(93.8,405.5) rotate(-90)" x="0" y="0" font-size="9.6" text-anchor="middle" fill="#262626" textLength="26.3" lengthAdjust="spacingAndGlyphs" style="stroke-width:0.4px">Response</text>
<rect x="428.8" y="349.30" width="7.3" height="6.8" fill="#fde3c9"/>
<text x="439.7" y="355.0" font-size="6.6" text-anchor="start" font-weight="normal" fill="#262626" style="stroke-width:0.1px">Induction period</text>
<rect x="428.8" y="364.00" width="7.3" height="6.8" fill="#fdc184"/>
<text x="439.7" y="369.7" font-size="6.6" text-anchor="start" font-weight="normal" fill="#262626" style="stroke-width:0.1px">Systemic therapy 1</text>
<rect x="428.8" y="379.00" width="7.3" height="6.8" fill="#f28e0a"/>
<text x="439.7" y="384.7" font-size="6.6" text-anchor="start" font-weight="normal" fill="#262626" style="stroke-width:0.1px">Systemic therapy 2</text>
<rect x="428.8" y="393.70" width="7.3" height="6.8" fill="#e0eedb"/>
<text x="439.7" y="399.4" font-size="6.6" text-anchor="start" font-weight="normal" fill="#262626" style="stroke-width:0.1px">before CAR T1</text>
<rect x="428.8" y="408.40" width="7.3" height="6.8" fill="#bcdcaf"/>
<text x="439.7" y="414.1" font-size="6.6" text-anchor="start" font-weight="normal" fill="#262626" style="stroke-width:0.1px">After CAR T1</text>
<rect x="428.8" y="423.00" width="7.3" height="6.8" fill="#98c98a"/>
<text x="439.7" y="428.7" font-size="6.6" text-anchor="start" font-weight="normal" fill="#262626" style="stroke-width:0.1px">After CAR T2</text>
<rect x="428.8" y="437.60" width="7.3" height="6.8" fill="#6bb75e"/>
<text x="439.7" y="443.3" font-size="6.6" text-anchor="start" font-weight="normal" fill="#262626" style="stroke-width:0.1px">After CAR T3</text>
<rect x="428.8" y="452.50" width="7.3" height="6.8" fill="#3aa935"/>
<text x="439.7" y="458.2" font-size="6.6" text-anchor="start" font-weight="normal" fill="#262626" style="stroke-width:0.1px">After CAR T4</text>
<text x="67.5" y="549.7" font-size="13.4" text-anchor="start" font-weight="bold" fill="#000" style="stroke:#000;stroke-width:0.55px">C</text>
<text x="166.6" y="550.7" font-size="10" text-anchor="start" font-weight="normal" fill="#262626" textLength="66.5" lengthAdjust="spacingAndGlyphs" >Overall Survival</text>
<line x1="120.7" x2="120.7" y1="556.3" y2="665.5" stroke="#111" stroke-width="1.2"/>
<line x1="120.2" x2="279.18" y1="662.5" y2="662.5" stroke="#111" stroke-width="1.2"/>
<line x1="117.0" x2="121.0" y1="662.20" y2="662.20" stroke="#111" stroke-width="1"/>
<text x="113.6" y="664.8" font-size="7.5" text-anchor="end" font-weight="normal" fill="#262626" >0</text>
<line x1="117.0" x2="121.0" y1="641.68" y2="641.68" stroke="#111" stroke-width="1"/>
<text x="113.6" y="644.28" font-size="7.5" text-anchor="end" font-weight="normal" fill="#262626" >20</text>
<line x1="117.0" x2="121.0" y1="621.16" y2="621.16" stroke="#111" stroke-width="1"/>
<text x="113.6" y="623.76" font-size="7.5" text-anchor="end" font-weight="normal" fill="#262626" >40</text>
<line x1="117.0" x2="121.0" y1="600.64" y2="600.64" stroke="#111" stroke-width="1"/>
<text x="113.6" y="603.24" font-size="7.5" text-anchor="end" font-weight="normal" fill="#262626" >60</text>
<line x1="117.0" x2="121.0" y1="580.12" y2="580.12" stroke="#111" stroke-width="1"/>
<text x="113.6" y="582.72" font-size="7.5" text-anchor="end" font-weight="normal" fill="#262626" >80</text>
<line x1="117.0" x2="121.0" y1="559.60" y2="559.60" stroke="#111" stroke-width="1"/>
<text x="113.6" y="562.2" font-size="7.5" text-anchor="end" font-weight="normal" fill="#262626" >100</text>
<line x1="121.00" x2="121.00" y1="662.2" y2="665.7" stroke="#111" stroke-width="1"/>
<text x="121.0" y="675.9" font-size="7.5" text-anchor="middle" font-weight="normal" fill="#262626" >0</text>
<line x1="136.43" x2="136.43" y1="662.2" y2="665.7" stroke="#111" stroke-width="1"/>
<text x="136.43" y="675.9" font-size="7.5" text-anchor="middle" font-weight="normal" fill="#262626" >6</text>
<line x1="151.86" x2="151.86" y1="662.2" y2="665.7" stroke="#111" stroke-width="1"/>
<text x="151.86" y="675.9" font-size="7.5" text-anchor="middle" font-weight="normal" fill="#262626" >12</text>
<line x1="167.30" x2="167.30" y1="662.2" y2="665.7" stroke="#111" stroke-width="1"/>
<text x="167.3" y="675.9" font-size="7.5" text-anchor="middle" font-weight="normal" fill="#262626" >18</text>
<line x1="182.73" x2="182.73" y1="662.2" y2="665.7" stroke="#111" stroke-width="1"/>
<text x="182.73" y="675.9" font-size="7.5" text-anchor="middle" font-weight="normal" fill="#262626" >24</text>
<line x1="198.16" x2="198.16" y1="662.2" y2="665.7" stroke="#111" stroke-width="1"/>
<text x="198.16" y="675.9" font-size="7.5" text-anchor="middle" font-weight="normal" fill="#262626" >30</text>
<line x1="213.59" x2="213.59" y1="662.2" y2="665.7" stroke="#111" stroke-width="1"/>
<text x="213.59" y="675.9" font-size="7.5" text-anchor="middle" font-weight="normal" fill="#262626" >36</text>
<line x1="229.02" x2="229.02" y1="662.2" y2="665.7" stroke="#111" stroke-width="1"/>
<text x="229.02" y="675.9" font-size="7.5" text-anchor="middle" font-weight="normal" fill="#262626" >42</text>
<line x1="244.46" x2="244.46" y1="662.2" y2="665.7" stroke="#111" stroke-width="1"/>
<text x="244.46" y="675.9" font-size="7.5" text-anchor="middle" font-weight="normal" fill="#262626" >48</text>
<line x1="259.89" x2="259.89" y1="662.2" y2="665.7" stroke="#111" stroke-width="1"/>
<text x="259.89" y="675.9" font-size="7.5" text-anchor="middle" font-weight="normal" fill="#262626" >54</text>
<line x1="275.32" x2="275.32" y1="662.2" y2="665.7" stroke="#111" stroke-width="1"/>
<text x="275.32" y="675.9" font-size="7.5" text-anchor="middle" font-weight="normal" fill="#262626" >60</text>
<text x="199.45" y="689.6" font-size="9.2" text-anchor="middle" fill="#262626" textLength="21.5" lengthAdjust="spacingAndGlyphs" style="stroke-width:0.45px">Months</text>
<text transform="translate(93.80,609.3) rotate(-90)" x="0" y="0" font-size="8.8" text-anchor="middle" fill="#262626" textLength="62" lengthAdjust="spacingAndGlyphs" style="stroke-width:0.4px">Probability of survival</text>
<text x="113.4" y="702.1" font-size="7.5" text-anchor="end" font-weight="normal" fill="#262626" textLength="35" lengthAdjust="spacingAndGlyphs" >No. at Risk</text>
<text x="121.0" y="702.1" font-size="7.8" text-anchor="middle" font-weight="normal" fill="#262626" >15</text>
<text x="136.43" y="702.1" font-size="7.8" text-anchor="middle" font-weight="normal" fill="#262626" >15</text>
<text x="151.86" y="702.1" font-size="7.8" text-anchor="middle" font-weight="normal" fill="#262626" >13</text>
<text x="167.3" y="702.1" font-size="7.8" text-anchor="middle" font-weight="normal" fill="#262626" >13</text>
<text x="182.73" y="702.1" font-size="7.8" text-anchor="middle" font-weight="normal" fill="#262626" >11</text>
<text x="198.16" y="702.1" font-size="7.8" text-anchor="middle" font-weight="normal" fill="#262626" >5</text>
<text x="213.59" y="702.1" font-size="7.8" text-anchor="middle" font-weight="normal" fill="#262626" >4</text>
<text x="229.02" y="702.1" font-size="7.8" text-anchor="middle" font-weight="normal" fill="#262626" >4</text>
<text x="244.46" y="702.1" font-size="7.8" text-anchor="middle" font-weight="normal" fill="#262626" >4</text>
<text x="259.89" y="702.1" font-size="7.8" text-anchor="middle" font-weight="normal" fill="#262626" >4</text>
<text x="275.32" y="702.1" font-size="7.8" text-anchor="middle" font-weight="normal" fill="#262626" >0</text>
<path d="M121.0 559.60H194.94V576.73H266.58V576.73" fill="none" stroke="#a0224a" stroke-width="1.6"/>
<line x1="138.49" x2="138.49" y1="557.40" y2="559.60" stroke="#8a1836" stroke-width="1"/>
<line x1="143.63" x2="143.63" y1="557.40" y2="559.60" stroke="#8a1836" stroke-width="1"/>
<line x1="177.33" x2="177.33" y1="557.40" y2="559.60" stroke="#8a1836" stroke-width="1"/>
<line x1="180.28" x2="180.28" y1="557.40" y2="559.60" stroke="#8a1836" stroke-width="1"/>
<line x1="183.24" x2="183.24" y1="557.40" y2="559.60" stroke="#8a1836" stroke-width="1"/>
<line x1="185.56" x2="185.56" y1="557.40" y2="559.60" stroke="#8a1836" stroke-width="1"/>
<line x1="187.61" x2="187.61" y1="557.40" y2="559.60" stroke="#8a1836" stroke-width="1"/>
<line x1="190.19" x2="190.19" y1="557.40" y2="559.60" stroke="#8a1836" stroke-width="1"/>
<line x1="192.50" x2="192.50" y1="557.40" y2="559.60" stroke="#8a1836" stroke-width="1"/>
<line x1="197.65" x2="197.65" y1="574.53" y2="576.73" stroke="#8a1836" stroke-width="1"/>
<line x1="260.15" x2="260.15" y1="574.53" y2="576.73" stroke="#8a1836" stroke-width="1"/>
<line x1="261.95" x2="261.95" y1="574.53" y2="576.73" stroke="#8a1836" stroke-width="1"/>
<line x1="266.06" x2="266.06" y1="574.53" y2="576.73" stroke="#8a1836" stroke-width="1"/>
<text x="297.4" y="549.7" font-size="13.4" text-anchor="start" font-weight="bold" fill="#000" style="stroke:#000;stroke-width:0.55px">D</text>
<text x="388" y="550.7" font-size="10" text-anchor="start" font-weight="normal" fill="#262626" textLength="89.7" lengthAdjust="spacingAndGlyphs" >Relapse-free Survival</text>
<line x1="353.09999999999997" x2="353.09999999999997" y1="556.3" y2="665.5" stroke="#111" stroke-width="1.2"/>
<line x1="352.59999999999997" x2="511.58" y1="662.5" y2="662.5" stroke="#111" stroke-width="1.2"/>
<line x1="349.4" x2="353.4" y1="662.20" y2="662.20" stroke="#111" stroke-width="1"/>
<text x="346.0" y="664.8" font-size="7.5" text-anchor="end" font-weight="normal" fill="#262626" >0</text>
<line x1="349.4" x2="353.4" y1="641.68" y2="641.68" stroke="#111" stroke-width="1"/>
<text x="346.0" y="644.28" font-size="7.5" text-anchor="end" font-weight="normal" fill="#262626" >20</text>
<line x1="349.4" x2="353.4" y1="621.16" y2="621.16" stroke="#111" stroke-width="1"/>
<text x="346.0" y="623.76" font-size="7.5" text-anchor="end" font-weight="normal" fill="#262626" >40</text>
<line x1="349.4" x2="353.4" y1="600.64" y2="600.64" stroke="#111" stroke-width="1"/>
<text x="346.0" y="603.24" font-size="7.5" text-anchor="end" font-weight="normal" fill="#262626" >60</text>
<line x1="349.4" x2="353.4" y1="580.12" y2="580.12" stroke="#111" stroke-width="1"/>
<text x="346.0" y="582.72" font-size="7.5" text-anchor="end" font-weight="normal" fill="#262626" >80</text>
<line x1="349.4" x2="353.4" y1="559.60" y2="559.60" stroke="#111" stroke-width="1"/>
<text x="346.0" y="562.2" font-size="7.5" text-anchor="end" font-weight="normal" fill="#262626" >100</text>
<line x1="353.40" x2="353.40" y1="662.2" y2="665.7" stroke="#111" stroke-width="1"/>
<text x="353.4" y="675.9" font-size="7.5" text-anchor="middle" font-weight="normal" fill="#262626" >0</text>
<line x1="368.83" x2="368.83" y1="662.2" y2="665.7" stroke="#111" stroke-width="1"/>
<text x="368.83" y="675.9" font-size="7.5" text-anchor="middle" font-weight="normal" fill="#262626" >6</text>
<line x1="384.26" x2="384.26" y1="662.2" y2="665.7" stroke="#111" stroke-width="1"/>
<text x="384.26" y="675.9" font-size="7.5" text-anchor="middle" font-weight="normal" fill="#262626" >12</text>
<line x1="399.70" x2="399.70" y1="662.2" y2="665.7" stroke="#111" stroke-width="1"/>
<text x="399.7" y="675.9" font-size="7.5" text-anchor="middle" font-weight="normal" fill="#262626" >18</text>
<line x1="415.13" x2="415.13" y1="662.2" y2="665.7" stroke="#111" stroke-width="1"/>
<text x="415.13" y="675.9" font-size="7.5" text-anchor="middle" font-weight="normal" fill="#262626" >24</text>
<line x1="430.56" x2="430.56" y1="662.2" y2="665.7" stroke="#111" stroke-width="1"/>
<text x="430.56" y="675.9" font-size="7.5" text-anchor="middle" font-weight="normal" fill="#262626" >30</text>
<line x1="445.99" x2="445.99" y1="662.2" y2="665.7" stroke="#111" stroke-width="1"/>
<text x="445.99" y="675.9" font-size="7.5" text-anchor="middle" font-weight="normal" fill="#262626" >36</text>
<line x1="461.42" x2="461.42" y1="662.2" y2="665.7" stroke="#111" stroke-width="1"/>
<text x="461.42" y="675.9" font-size="7.5" text-anchor="middle" font-weight="normal" fill="#262626" >42</text>
<line x1="476.86" x2="476.86" y1="662.2" y2="665.7" stroke="#111" stroke-width="1"/>
<text x="476.86" y="675.9" font-size="7.5" text-anchor="middle" font-weight="normal" fill="#262626" >48</text>
<line x1="492.29" x2="492.29" y1="662.2" y2="665.7" stroke="#111" stroke-width="1"/>
<text x="492.29" y="675.9" font-size="7.5" text-anchor="middle" font-weight="normal" fill="#262626" >54</text>
<line x1="507.72" x2="507.72" y1="662.2" y2="665.7" stroke="#111" stroke-width="1"/>
<text x="507.72" y="675.9" font-size="7.5" text-anchor="middle" font-weight="normal" fill="#262626" >60</text>
<text x="431.85" y="689.6" font-size="9.2" text-anchor="middle" fill="#262626" textLength="21.5" lengthAdjust="spacingAndGlyphs" style="stroke-width:0.45px">Months</text>
<text transform="translate(326.20,609.3) rotate(-90)" x="0" y="0" font-size="8.8" text-anchor="middle" fill="#262626" textLength="62" lengthAdjust="spacingAndGlyphs" style="stroke-width:0.4px">Probability of survival</text>
<text x="345.79999999999995" y="702.1" font-size="7.5" text-anchor="end" font-weight="normal" fill="#262626" textLength="35" lengthAdjust="spacingAndGlyphs" >No. at Risk</text>
<text x="353.4" y="702.1" font-size="7.8" text-anchor="middle" font-weight="normal" fill="#262626" >15</text>
<text x="368.83" y="702.1" font-size="7.8" text-anchor="middle" font-weight="normal" fill="#262626" >15</text>
<text x="384.26" y="702.1" font-size="7.8" text-anchor="middle" font-weight="normal" fill="#262626" >13</text>
<text x="399.7" y="702.1" font-size="7.8" text-anchor="middle" font-weight="normal" fill="#262626" >13</text>
<text x="415.13" y="702.1" font-size="7.8" text-anchor="middle" font-weight="normal" fill="#262626" >11</text>
<text x="430.56" y="702.1" font-size="7.8" text-anchor="middle" font-weight="normal" fill="#262626" >5</text>
<text x="445.99" y="702.1" font-size="7.8" text-anchor="middle" font-weight="normal" fill="#262626" >4</text>
<text x="461.42" y="702.1" font-size="7.8" text-anchor="middle" font-weight="normal" fill="#262626" >4</text>
<text x="476.86" y="702.1" font-size="7.8" text-anchor="middle" font-weight="normal" fill="#262626" >4</text>
<text x="492.29" y="702.1" font-size="7.8" text-anchor="middle" font-weight="normal" fill="#262626" >4</text>
<text x="507.72" y="702.1" font-size="7.8" text-anchor="middle" font-weight="normal" fill="#262626" >0</text>
<path d="M353.4 559.60H371.40V566.47H417.96V576.12H499.49V576.12" fill="none" stroke="#a0224a" stroke-width="1.6"/>
<line x1="376.55" x2="376.55" y1="564.27" y2="566.47" stroke="#8a1836" stroke-width="1"/>
<line x1="410.24" x2="410.24" y1="564.27" y2="566.47" stroke="#8a1836" stroke-width="1"/>
<line x1="413.84" x2="413.84" y1="564.27" y2="566.47" stroke="#8a1836" stroke-width="1"/>
<line x1="415.13" x2="415.13" y1="564.27" y2="566.47" stroke="#8a1836" stroke-width="1"/>
<line x1="420.53" x2="420.53" y1="573.92" y2="576.12" stroke="#8a1836" stroke-width="1"/>
<line x1="422.84" x2="422.84" y1="573.92" y2="576.12" stroke="#8a1836" stroke-width="1"/>
<line x1="425.67" x2="425.67" y1="573.92" y2="576.12" stroke="#8a1836" stroke-width="1"/>
<line x1="428.25" x2="428.25" y1="573.92" y2="576.12" stroke="#8a1836" stroke-width="1"/>
<line x1="430.82" x2="430.82" y1="573.92" y2="576.12" stroke="#8a1836" stroke-width="1"/>
<line x1="492.80" x2="492.80" y1="573.92" y2="576.12" stroke="#8a1836" stroke-width="1"/>
<line x1="494.60" x2="494.60" y1="573.92" y2="576.12" stroke="#8a1836" stroke-width="1"/>
<line x1="498.98" x2="498.98" y1="573.92" y2="576.12" stroke="#8a1836" stroke-width="1"/>
<rect x="0.5" y="0.5" width="519" height="711" fill="none" stroke="#444" stroke-width="1"/>
</svg>
</body></html>
